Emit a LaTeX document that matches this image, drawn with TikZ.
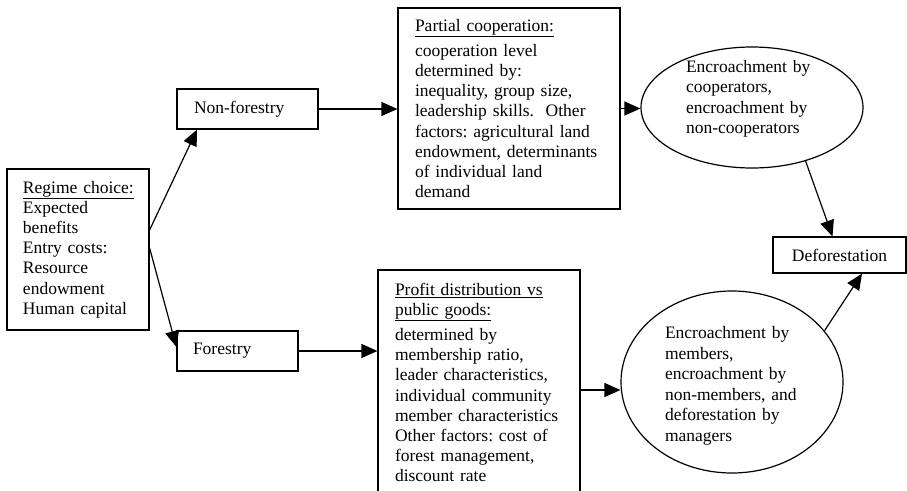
\documentclass[tikz,border=0pt]{standalone}
\usepackage{fontspec}
\setmainfont{Liberation Serif}
\usetikzlibrary{arrows.meta,shapes.geometric,calc}
\frenchspacing
\begin{document}
\begin{tikzpicture}[x=1pt,y=-1pt,
  box/.style={draw, line width=1.2pt, rectangle, inner xsep=17pt, inner ysep=0pt, align=left, font=\fontsize{17.5}{20.2}\selectfont},
  ell/.style={draw, line width=1.2pt, ellipse, inner sep=0pt},
  etext/.style={align=left, inner sep=0pt, font=\fontsize{17.5}{20.5}\selectfont},
  arr/.style={line width=1.2pt, -{Triangle[length=16pt,width=14pt]}}]
\useasboundingbox (0,0) rectangle (907,490);

\node[box, inner xsep=16pt, text width=110pt, minimum height=161pt] (reg) at (78,249.5)
  {\underline{Regime choice:}\\Expected\\benefits\\Entry costs:\\Resource\\endowment\\Human capital};

\node[box, text width=107pt, minimum height=40pt] (nf) at (247.5,109) {Non-forestry};
\node[box, inner xsep=16pt, text width=89pt, minimum height=40pt] (f) at (237.5,351) {Forestry};

\node[box, text width=188pt, minimum height=201pt] (pc) at (509,108.5)
  {\underline{Partial cooperation:}\\[5pt]cooperation level\\determined by:\\inequality, group size,\\leadership skills.~ Other\\factors: agricultural land\\endowment, determinants\\of individual land\\demand};

\node[box, text width=168pt, minimum height=225pt] (pd) at (479,382.5)
  {\underline{Profit distribution vs}\\\underline{public goods:}\\[5pt]determined by\\membership ratio,\\leader characteristics,\\individual community\\member characteristics\\Other factors: cost of\\forest management,\\discount rate};

\node[ell, minimum width=222pt, minimum height=121pt] (e1) at (752,107.5) {};
\node[etext, text width=130pt] (e1t) at (751,99)
  {Encroachment by\\cooperators,\\encroachment by\\non-cooperators};

\node[ell, minimum width=222pt, minimum height=182pt] (e2) at (732,382) {};
\node[etext, text width=140pt] (e2t) at (735,386)
  {Encroachment by\\members,\\encroachment by\\non-members, and\\deforestation by\\managers};

\node[box, inner xsep=0pt, align=center, minimum width=133pt, minimum height=36pt] (def) at (839.5,255) {Deforestation};

\draw[arr] ([yshift=19.5pt]reg.east) -- ([xshift=-50.5pt]nf.south);
\draw[arr] ([yshift=1.5pt]reg.east) -- ([yshift=4pt]f.west);
\draw[arr] (nf.east) -- (nf.east -| pc.west);
\draw[arr] (f.east) -- (f.east -| pd.west);
\draw[arr] (pc.east) -- (pc.east -| e1.west);
\draw[arr] ([yshift=-8pt]e2.west -| pd.east) -- ([yshift=-8pt]e2.west);
\draw[arr] (e1.-45) -- ([xshift=-7pt]def.north);
\draw[arr] (e2.29) -- ([xshift=22.5pt]def.south);
\end{tikzpicture}
\end{document}
